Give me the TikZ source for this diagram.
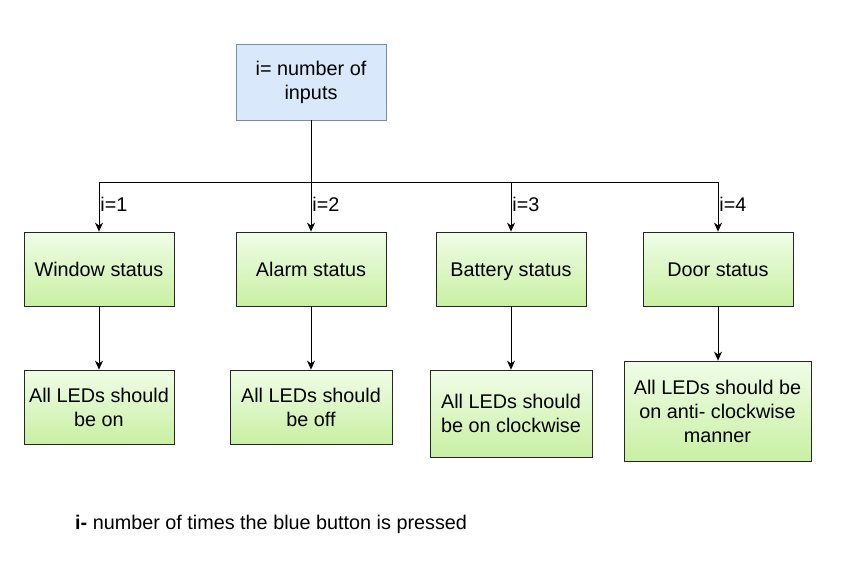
\documentclass[tikz,border=0pt]{standalone}
\usepackage{fontspec}
\setmainfont{Liberation Sans}
\usetikzlibrary{arrows.meta}
\definecolor{bluefill}{HTML}{DAE8FC}
\definecolor{blueline}{HTML}{6C8EBF}
\definecolor{greentop}{RGB}{240,253,232}
\definecolor{greenbot}{RGB}{200,240,162}
\newcommand{\boxfont}{\fontsize{19.8}{24}\selectfont}

\begin{document}
\begin{tikzpicture}[x=1pt,y=-1pt,
    bluebox/.style={draw=blueline, fill=bluefill, line width=0.8pt, minimum width=150pt, minimum height=76pt, align=center, font=\boxfont},
    greenbox/.style={draw=black!85, top color=greentop, bottom color=greenbot, line width=0.8pt, minimum width=150pt, minimum height=74pt, align=center, inner sep=2pt, font=\boxfont},
    oneline/.style={text height=16pt, text depth=2pt},
    arr/.style={-{Stealth[length=9pt,width=8pt]}, line width=0.8pt},
    lbl/.style={anchor=west, inner sep=1pt, font=\boxfont}]
  \useasboundingbox (0,0) rectangle (848,560);

  \node [bluebox] (inputs) at (311,82) {i= number of\\inputs};

  \node [greenbox, oneline] (window) at (99,269) {Window status};
  \node [greenbox, oneline] (alarm) at (311,269) {Alarm status};
  \node [greenbox, oneline] (battery) at (511,269) {Battery status};
  \node [greenbox, oneline] (door) at (718,269) {Door status};

  \node [greenbox] (allon) at (99,407) {All LEDs should\\be on};
  \node [greenbox, minimum width=162pt] (alloff) at (311,407) {All LEDs should\\be off};
  \node [greenbox, minimum width=162pt, minimum height=87pt] (clock) at (511,413.5) {All LEDs should\\be on clockwise};
  \node [greenbox, minimum width=187pt, minimum height=100pt] (anti) at (717.5,411) {All LEDs should be\\on anti- clockwise\\manner};

  % branches
  \coordinate (split) at (311,182);
  \draw [line width=0.8pt] (inputs.south) -- (split);
  \draw [arr] (split) -| node [lbl, pos=0.73] {i=1} (window.north);
  \draw [arr] (split) -- node [lbl, pos=0.46] {i=2} (alarm.north);
  \draw [arr] (split) -| node [lbl, pos=0.73] {i=3} (battery.north);
  \draw [arr] (split) -| node [lbl, pos=0.73] {i=4} (door.north);

  \draw [arr] (window) -- (allon);
  \draw [arr] (alarm) -- (alloff);
  \draw [arr] (battery) -- (clock);
  \draw [arr] (door.south) -- (door.south |- anti.north);

  \node [anchor=west, inner sep=0pt, font=\boxfont] (note) at (75,524) {\textbf{i-} number of times the blue button is pressed};
\end{tikzpicture}
\end{document}
